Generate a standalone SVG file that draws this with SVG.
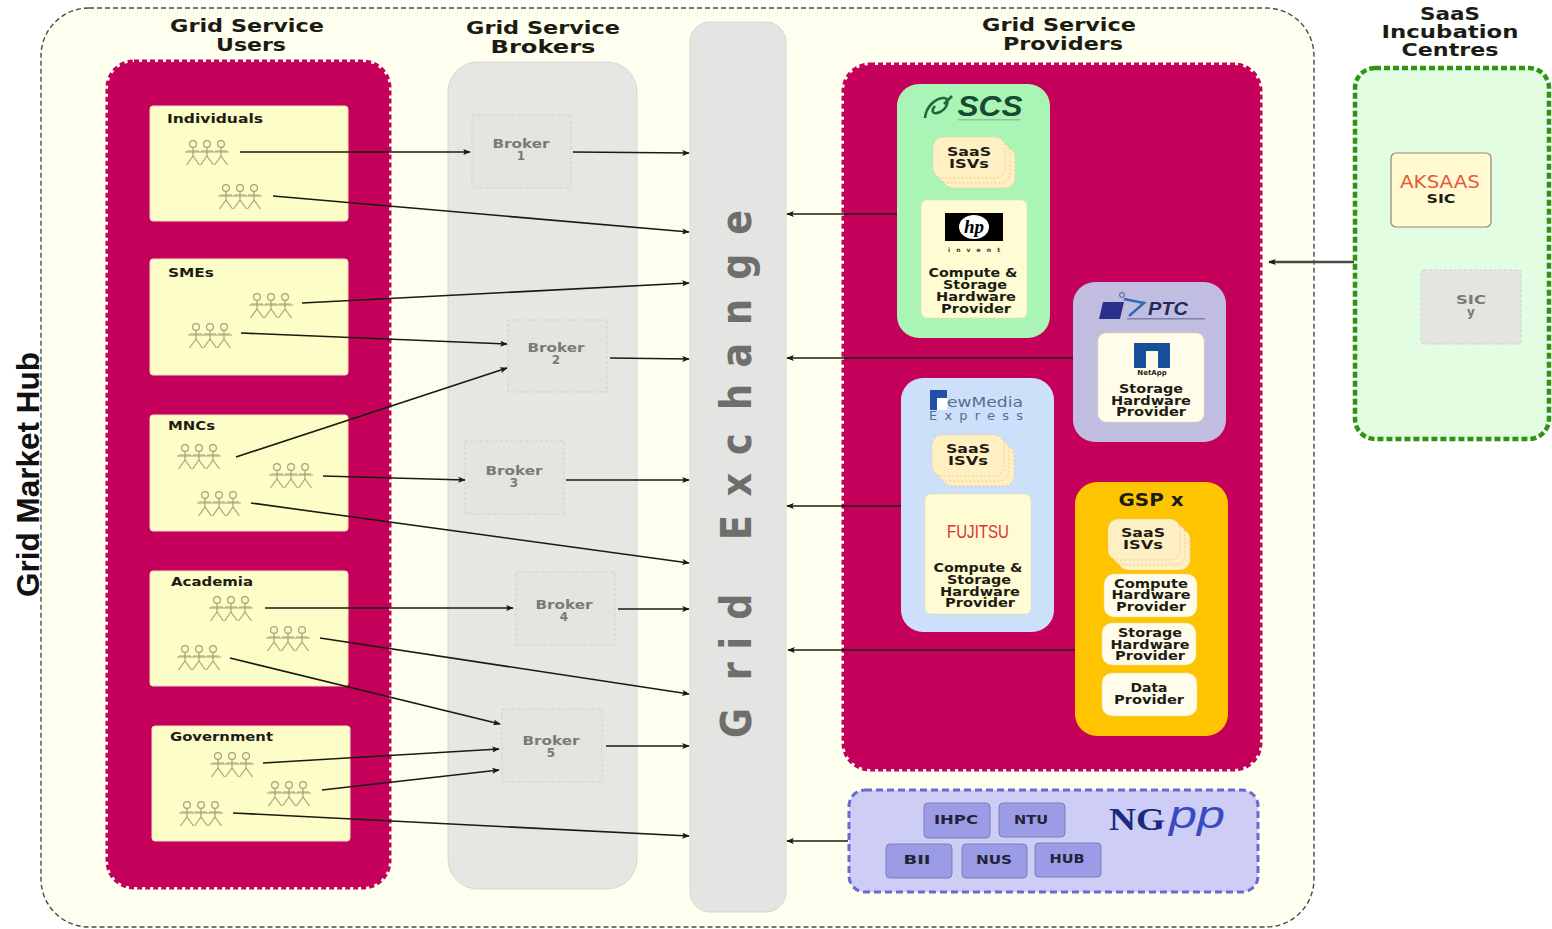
<svg xmlns="http://www.w3.org/2000/svg" xmlns:xlink="http://www.w3.org/1999/xlink" width="1552" height="929" viewBox="0 0 1552 929">
<style>
text{font-family:"DejaVu Sans",sans-serif;font-weight:bold;text-anchor:middle;fill:#1c1c14}
.title{font-size:17px}
.lab{font-size:12px}
.st{text-anchor:start;font-size:12px}
.brk{font-size:12px;fill:#7a7a74}
.panel{fill:#c4005a;stroke:#c4005a;stroke-width:5;stroke-dasharray:5 3}
.user{fill:#fdfdc8;stroke:#f0e0c0;stroke-width:1}
.broker{fill:#e4e4e0;stroke:#cfcfcb;stroke-width:1;stroke-dasharray:3 2}
.cream{fill:#fffbd2;stroke:#ecd9a0;stroke-width:1;stroke-dasharray:2 2}
.white{fill:#fffdea;stroke:#ecd9a0;stroke-width:1;stroke-dasharray:2 2}
.isv{fill:#fff0c4;stroke:#f2c890;stroke-width:1;stroke-dasharray:2 2}
.blue{fill:#9c9ce6;stroke:#7c7cb8;stroke-width:1}
.bl{font-size:11.5px;fill:#222238}
.conn{stroke:#1a1a10;stroke-width:1.6;fill:none;marker-end:url(#ah)}
.ppl{fill:none;stroke:#a3a375;stroke-width:1.2}
</style>
<defs>
<marker id="ah" viewBox="0 0 10 8" refX="9" refY="4" markerWidth="8" markerHeight="6" markerUnits="userSpaceOnUse" orient="auto"><path d="M0 0L10 4L0 8L2 4Z" fill="#1a1a10"/></marker>
<g id="one"><circle cx="0" cy="-8" r="3.4"/><path d="M0 -4.6V4M-6 -1H6M0 4L-6.5 13M0 4L6.5 13"/></g>
<g id="people" class="ppl"><use xlink:href="#one" x="-14"/><use xlink:href="#one" x="0"/><use xlink:href="#one" x="14"/><path d="M-22 0H22"/></g>
<g id="stack"><rect class="isv" x="10" y="10" width="72" height="41" rx="10"/><rect class="isv" x="5" y="5" width="72" height="41" rx="10"/><rect class="isv" x="0" y="0" width="72" height="41" rx="10"/></g>
</defs>
<rect width="1552" height="929" fill="#fff"/>

<g id="hub">
<rect x="41" y="8" width="1273" height="919" rx="48" fill="#fffff0" stroke="#4a4a44" stroke-width="1.4" stroke-dasharray="5 3"/>
<text transform="translate(39,597) rotate(-90)" x="0" y="0" textLength="245" lengthAdjust="spacingAndGlyphs" style="text-anchor:start;font-size:31px;font-family:'Liberation Sans',sans-serif;fill:#111">Grid Market Hub</text>
</g>

<g id="users">
<rect class="panel" x="108" y="62" width="281" height="825" rx="26"/>
<text class="title" x="247" y="32" textLength="154" lengthAdjust="spacingAndGlyphs">Grid Service</text>
<text class="title" x="251" y="51" textLength="70" lengthAdjust="spacingAndGlyphs">Users</text>
</g>
<g id="individuals"><rect class="user" x="150" y="106" width="198" height="115" rx="3"/><text class="st" x="167" y="123" textLength="96" lengthAdjust="spacingAndGlyphs">Individuals</text><use xlink:href="#people" x="207" y="152"/><use xlink:href="#people" x="240" y="196"/></g>
<g id="smes"><rect class="user" x="150" y="259" width="198" height="116" rx="3"/><text class="st" x="168" y="277" textLength="46" lengthAdjust="spacingAndGlyphs">SMEs</text><use xlink:href="#people" x="271" y="305"/><use xlink:href="#people" x="210" y="335"/></g>
<g id="mncs"><rect class="user" x="150" y="415" width="198" height="116" rx="3"/><text class="st" x="168" y="430" textLength="47" lengthAdjust="spacingAndGlyphs">MNCs</text><use xlink:href="#people" x="199" y="456"/><use xlink:href="#people" x="291" y="475"/><use xlink:href="#people" x="219" y="503"/></g>
<g id="academia"><rect class="user" x="150" y="571" width="198" height="115" rx="3"/><text class="st" x="171" y="586" textLength="82" lengthAdjust="spacingAndGlyphs">Academia</text><use xlink:href="#people" x="231" y="608"/><use xlink:href="#people" x="288" y="638"/><use xlink:href="#people" x="199" y="657"/></g>
<g id="government"><rect class="user" x="152" y="726" width="198" height="115" rx="3"/><text class="st" x="170" y="741" textLength="103" lengthAdjust="spacingAndGlyphs">Government</text><use xlink:href="#people" x="232" y="764"/><use xlink:href="#people" x="289" y="793"/><use xlink:href="#people" x="201" y="813"/></g>

<g id="brokers">
<rect x="448" y="62" width="189" height="827" rx="30" fill="#e6e6e2" stroke="#d6d6d2"/>
<text class="title" x="543" y="34" textLength="154" lengthAdjust="spacingAndGlyphs">Grid Service</text>
<text class="title" x="543" y="53" textLength="105" lengthAdjust="spacingAndGlyphs">Brokers</text>
</g>
<g id="broker1"><rect class="broker" x="472" y="115" width="99" height="73"/><text class="brk" x="521" y="148" textLength="57" lengthAdjust="spacingAndGlyphs">Broker</text><text class="brk" x="521" y="160">1</text></g>
<g id="broker2"><rect class="broker" x="508" y="320" width="99" height="72"/><text class="brk" x="556" y="352" textLength="57" lengthAdjust="spacingAndGlyphs">Broker</text><text class="brk" x="556" y="364">2</text></g>
<g id="broker3"><rect class="broker" x="465" y="441" width="99" height="73"/><text class="brk" x="514" y="475" textLength="57" lengthAdjust="spacingAndGlyphs">Broker</text><text class="brk" x="514" y="487">3</text></g>
<g id="broker4"><rect class="broker" x="516" y="572" width="99" height="73"/><text class="brk" x="564" y="609" textLength="57" lengthAdjust="spacingAndGlyphs">Broker</text><text class="brk" x="564" y="621">4</text></g>
<g id="broker5"><rect class="broker" x="502" y="709" width="100" height="73"/><text class="brk" x="551" y="745" textLength="57" lengthAdjust="spacingAndGlyphs">Broker</text><text class="brk" x="551" y="757">5</text></g>

<g id="grid-exchange">
<rect x="690" y="22" width="96" height="890" rx="20" fill="#e4e4e2" stroke="#d6d6d2"/>
<text transform="translate(751,738) rotate(-90) scale(.85,1)" x="0 68 104 139 233 284 333 386 436 486 539 592" y="0" style="text-anchor:start;font-size:43px;fill:#6e6e6c">GridExchange</text>
</g>

<g id="providers">
<rect class="panel" x="844" y="65" width="416" height="704" rx="26"/>
<text class="title" x="1059" y="31" textLength="154" lengthAdjust="spacingAndGlyphs">Grid Service</text>
<text class="title" x="1063" y="50" textLength="120" lengthAdjust="spacingAndGlyphs">Providers</text>
</g>

<g id="scs">
<rect x="897" y="84" width="153" height="254" rx="22" fill="#aaf5b5"/>
<path d="M925 118C926 106 936 98 944 98C950 98 948 108 940 112C934 115 930 112 935 106M944 104L952 96" fill="none" stroke="#1f6a3c" stroke-width="2.6"/>
<text x="990" y="116" textLength="65" lengthAdjust="spacingAndGlyphs" style="font-size:30px;font-style:italic;fill:#174a30;font-family:'Liberation Sans',sans-serif">SCS</text>
<rect x="958" y="119" width="62" height="1.5" fill="#8cc49c"/>
<use xlink:href="#stack" x="933" y="137"/>
<text class="lab" x="969" y="156" textLength="44" lengthAdjust="spacingAndGlyphs">SaaS</text>
<text class="lab" x="969" y="168" textLength="40" lengthAdjust="spacingAndGlyphs">ISVs</text>
<rect class="cream" x="921" y="200" width="106" height="118" rx="6"/>
<rect x="945" y="213" width="58" height="28" fill="#000"/>
<ellipse cx="974" cy="227" rx="15" ry="12" fill="#fff"/>
<text x="974" y="233" style="font-size:19px;font-style:italic;fill:#000;font-family:'Liberation Serif',serif">hp</text>
<text x="974" y="252" textLength="52" lengthAdjust="spacing" style="font-size:6px;fill:#333">invent</text>
<text class="lab" x="973" y="277" textLength="89" lengthAdjust="spacingAndGlyphs">Compute &amp;</text>
<text class="lab" x="975" y="289" textLength="64" lengthAdjust="spacingAndGlyphs">Storage</text>
<text class="lab" x="976" y="301" textLength="80" lengthAdjust="spacingAndGlyphs">Hardware</text>
<text class="lab" x="976" y="313" textLength="70" lengthAdjust="spacingAndGlyphs">Provider</text>
</g>

<g id="ptc">
<rect x="1073" y="282" width="153" height="160" rx="22" fill="#c0bde0"/>
<path d="M1103 302H1124L1120 319H1099Z" fill="#2b2f8c"/>
<path d="M1124 299L1144 303L1129 316" fill="none" stroke="#2f6bb0" stroke-width="2.5"/>
<circle cx="1122" cy="295" r="2.5" fill="none" stroke="#5a5aa0"/>
<text x="1168" y="315" textLength="40" lengthAdjust="spacingAndGlyphs" style="font-size:18px;font-style:italic;fill:#222a60;font-family:'Liberation Sans',sans-serif">PTC</text>
<rect x="1127" y="318" width="78" height="1.5" fill="#7a7fb4"/>
<rect class="white" x="1098" y="333" width="106" height="89" rx="8"/>
<path d="M1134 343H1170V368H1158V351H1146V368H1134Z" fill="#1a4f9c"/>
<text x="1152" y="375" style="font-size:7px;fill:#222">NetApp</text>
<text class="lab" x="1151" y="393" textLength="64" lengthAdjust="spacingAndGlyphs">Storage</text>
<text class="lab" x="1151" y="405" textLength="80" lengthAdjust="spacingAndGlyphs">Hardware</text>
<text class="lab" x="1151" y="416" textLength="70" lengthAdjust="spacingAndGlyphs">Provider</text>
</g>

<g id="newmedia">
<rect x="901" y="378" width="153" height="254" rx="22" fill="#cce0fa"/>
<rect x="930" y="390" width="17" height="20" fill="#fff"/>
<path d="M930 390H947V398H937V410H930Z" fill="#2050a8"/>
<text x="985" y="407" textLength="76" lengthAdjust="spacingAndGlyphs" style="font-size:14px;font-weight:normal;fill:#55708e">ewMedia</text>
<text x="976" y="420" textLength="94" lengthAdjust="spacing" style="font-size:13px;font-weight:normal;fill:#55708e">Express</text>
<use xlink:href="#stack" x="932" y="435"/>
<text class="lab" x="968" y="453" textLength="44" lengthAdjust="spacingAndGlyphs">SaaS</text>
<text class="lab" x="968" y="465" textLength="40" lengthAdjust="spacingAndGlyphs">ISVs</text>
<rect class="cream" x="925" y="494" width="106" height="120" rx="6"/>
<text x="978" y="538" textLength="62" lengthAdjust="spacingAndGlyphs" style="font-size:19px;font-weight:normal;fill:#e03030;font-family:'Liberation Sans',sans-serif">FUJITSU</text>
<text class="lab" x="978" y="572" textLength="89" lengthAdjust="spacingAndGlyphs">Compute &amp;</text>
<text class="lab" x="979" y="584" textLength="64" lengthAdjust="spacingAndGlyphs">Storage</text>
<text class="lab" x="980" y="596" textLength="80" lengthAdjust="spacingAndGlyphs">Hardware</text>
<text class="lab" x="980" y="607" textLength="70" lengthAdjust="spacingAndGlyphs">Provider</text>
</g>

<g id="gsp">
<rect x="1075" y="482" width="153" height="254" rx="22" fill="#ffc400"/>
<text x="1151" y="506" textLength="65" lengthAdjust="spacingAndGlyphs" style="font-size:17px">GSP x</text>
<use xlink:href="#stack" x="1108" y="519"/>
<text class="lab" x="1143" y="537" textLength="44" lengthAdjust="spacingAndGlyphs">SaaS</text>
<text class="lab" x="1143" y="549" textLength="40" lengthAdjust="spacingAndGlyphs">ISVs</text>
<rect class="white" x="1104" y="574" width="93" height="43" rx="10"/>
<text class="lab" x="1151" y="588" textLength="74" lengthAdjust="spacingAndGlyphs">Compute</text>
<text class="lab" x="1151" y="599" textLength="79" lengthAdjust="spacingAndGlyphs">Hardware</text>
<text class="lab" x="1151" y="611" textLength="70" lengthAdjust="spacingAndGlyphs">Provider</text>
<rect class="white" x="1102" y="623" width="94" height="42" rx="10"/>
<text class="lab" x="1150" y="637" textLength="64" lengthAdjust="spacingAndGlyphs">Storage</text>
<text class="lab" x="1150" y="649" textLength="79" lengthAdjust="spacingAndGlyphs">Hardware</text>
<text class="lab" x="1150" y="660" textLength="70" lengthAdjust="spacingAndGlyphs">Provider</text>
<rect class="white" x="1102" y="673" width="95" height="43" rx="10"/>
<text class="lab" x="1149" y="692" textLength="37" lengthAdjust="spacingAndGlyphs">Data</text>
<text class="lab" x="1149" y="704" textLength="70" lengthAdjust="spacingAndGlyphs">Provider</text>
</g>

<g id="ngpp">
<rect x="849" y="790" width="409" height="102" rx="16" fill="#cdcdf6" stroke="#6a6ad4" stroke-width="3" stroke-dasharray="7 4"/>
<rect class="blue" x="924" y="803" width="66" height="35" rx="4"/><text class="bl" x="956" y="824" textLength="44" lengthAdjust="spacingAndGlyphs">IHPC</text>
<rect class="blue" x="999" y="803" width="66" height="34" rx="4"/><text class="bl" x="1031" y="824" textLength="34" lengthAdjust="spacingAndGlyphs">NTU</text>
<rect class="blue" x="886" y="844" width="66" height="34" rx="4"/><text class="bl" x="917" y="864" textLength="27" lengthAdjust="spacingAndGlyphs">BII</text>
<rect class="blue" x="962" y="844" width="65" height="34" rx="4"/><text class="bl" x="994" y="864" textLength="36" lengthAdjust="spacingAndGlyphs">NUS</text>
<rect class="blue" x="1035" y="843" width="66" height="34" rx="4"/><text class="bl" x="1067" y="863" textLength="35" lengthAdjust="spacingAndGlyphs">HUB</text>
<text x="1137" y="830" textLength="56" lengthAdjust="spacingAndGlyphs" style="font-size:31px;fill:#1a2a7c;font-family:'Liberation Serif',serif">NG</text>
<text x="1197" y="828" textLength="56" lengthAdjust="spacingAndGlyphs" style="font-size:38px;font-weight:normal;font-style:italic;fill:#3a4ac0;font-family:'Liberation Sans',sans-serif">pp</text>
</g>

<g id="sic-panel">
<rect x="1355" y="68" width="194" height="371" rx="20" fill="#e2fde2" stroke="#2f9412" stroke-width="4.5" stroke-dasharray="6 3"/>
<text class="title" x="1450" y="20" textLength="60" lengthAdjust="spacingAndGlyphs">SaaS</text>
<text class="title" x="1450" y="38" textLength="137" lengthAdjust="spacingAndGlyphs">Incubation</text>
<text class="title" x="1450" y="56" textLength="97" lengthAdjust="spacingAndGlyphs">Centres</text>
</g>
<g id="aksaas"><rect x="1391" y="153" width="100" height="74" rx="5" fill="#fffad0" stroke="#8a8a78" stroke-width="1.2"/><text x="1440" y="188" textLength="80" lengthAdjust="spacingAndGlyphs" style="font-size:17px;font-weight:normal;fill:#e8583c">AKSAAS</text><text class="lab" x="1441" y="203" textLength="29" lengthAdjust="spacingAndGlyphs">SIC</text></g>
<g id="sic-y"><rect class="broker" x="1421" y="270" width="100" height="74" rx="3" stroke="#a8a8a4"/><text class="brk" x="1471" y="304" textLength="30" lengthAdjust="spacingAndGlyphs">SIC</text><text class="brk" x="1471" y="316">y</text></g>

<g id="connectors">
<path class="conn" d="M240 152L470 152"/>
<path class="conn" d="M573 152L689 153"/>
<path class="conn" d="M273 196L689 232"/>
<path class="conn" d="M302 303L689 283"/>
<path class="conn" d="M241 333L507 344"/>
<path class="conn" d="M610 358L689 359"/>
<path class="conn" d="M236 457L507 368"/>
<path class="conn" d="M323 476L465 480"/>
<path class="conn" d="M566 480L689 480"/>
<path class="conn" d="M251 503L689 563"/>
<path class="conn" d="M265 608L513 608"/>
<path class="conn" d="M618 609L689 609"/>
<path class="conn" d="M320 638L689 694"/>
<path class="conn" d="M230 658L500 724"/>
<path class="conn" d="M263 763L499 749"/>
<path class="conn" d="M322 790L499 770"/>
<path class="conn" d="M606 746L689 746"/>
<path class="conn" d="M233 813L689 836"/>
<path class="conn" d="M897 214L787 214"/>
<path class="conn" d="M1073 358L787 358"/>
<path class="conn" d="M901 506L787 506"/>
<path class="conn" d="M1075 650L788 650"/>
<path class="conn" d="M848 841L787 841"/>
<path class="conn" d="M1354 262L1269 262" style="stroke:#4a4a44;stroke-width:2.4"/>
</g>
</svg>
